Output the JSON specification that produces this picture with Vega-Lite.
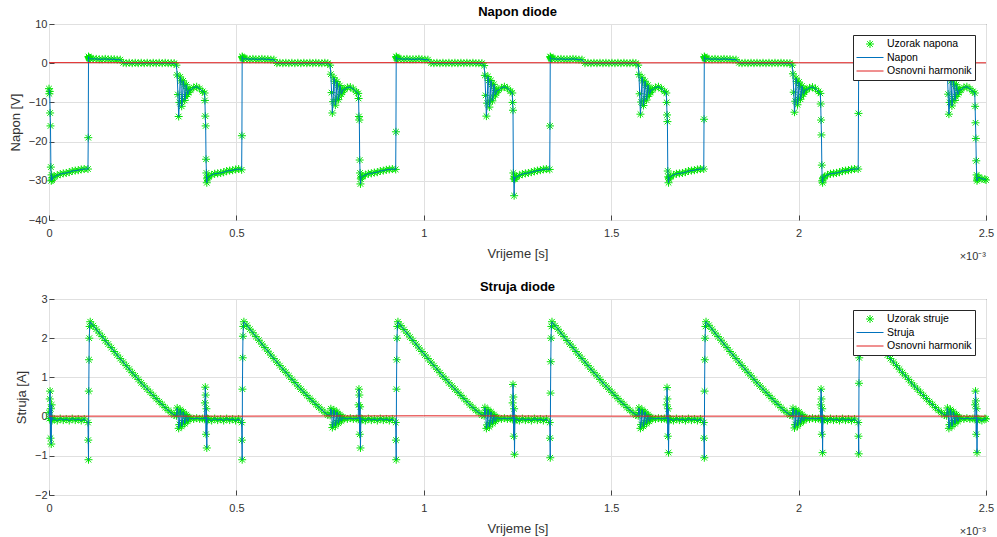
{
"$schema": "https://vega.github.io/schema/vega-lite/v6.json",
"background": "white",
"padding": {"left": 8, "top": 5, "right": 0, "bottom": 3},
"spacing": 17,
"config": {
  "font": "Liberation Sans",
  "view": {"stroke": "#444444", "strokeWidth": 1},
  "axis": {"domain": false, "grid": true, "gridColor": "#e0e0e0", "gridWidth": 1, "tickColor": "#444444", "tickSize": -5, "labelOverlap": false, "labelFlush": false, "labelFont": "Liberation Sans", "labelFontSize": 11, "labelColor": "#333333", "titleFont": "Liberation Sans", "titleFontSize": 13, "titleFontWeight": "normal", "titleColor": "#333333"},
  "axisX": {"labelPadding": 12, "titlePadding": 9},
  "axisY": {"labelPadding": 7, "titlePadding": 6},
  "title": {"font": "Liberation Sans", "fontSize": 13, "fontWeight": "bold", "color": "#000000", "offset": -1, "frame": "group"},
  "legend": {"orient": "top-right", "offset": 11, "fillColor": "#ffffff", "strokeColor": "#262626", "padding": 3, "labelFont": "Liberation Sans", "labelFontSize": 10.5, "labelColor": "#000000", "symbolStrokeWidth": 1, "clipHeight": 12, "rowPadding": 1.5, "labelOffset": 3}
},
"resolve": {"scale": {"color": "independent", "shape": "independent", "size": "independent"}, "legend": {"color": "independent", "shape": "independent", "size": "independent"}},
"datasets": {
"h": [{"t":0,"u":0.15,"i":0.012},{"t":0.5,"u":0.12,"i":0.012},{"t":1,"u":0.15,"i":0.02},{"t":1.5,"u":0.1,"i":0.012},{"t":2,"u":0.12,"i":0.012},{"t":2.5,"u":0.1,"i":0.012}],
"s": [
{"t":0,"u":-6.5,"i":0.1},{"t":0.001,"u":-7.8,"i":-0.05},{"t":0.002,"u":-7.2,"i":0.45},{"t":0.003,"u":-12.7,"i":0.65},{"t":0.004,"u":-16,"i":-0.55},{"t":0.005,"u":-26.5,"i":0.2},{"t":0.006,"u":-30,"i":-0.7},{"t":0.007,"u":-28.5,"i":0.3},{"t":0.008,"u":-29.8,"i":-0.1},{"t":0.01,"u":-29.2,"i":-0.05},
{"t":0.014,"u":-29,"i":-0.06},{"t":0.022,"u":-28.6,"i":-0.1},{"t":0.03,"u":-28.3,"i":-0.05},{"t":0.038,"u":-28.1,"i":-0.09},{"t":0.046,"u":-28,"i":-0.06},{"t":0.054,"u":-27.8,"i":-0.1},{"t":0.062,"u":-27.5,"i":-0.05},{"t":0.07,"u":-27.4,"i":-0.09},{"t":0.078,"u":-27.3,"i":-0.06},{"t":0.086,"u":-27.1,"i":-0.1},{"t":0.094,"u":-27,"i":-0.06},

{"t":0.104,"u":-27,"i":-0.15},{"t":0.1047,"u":-19,"i":-0.6},{"t":0.1054,"u":1.7,"i":-1.1},{"t":0.1061,"u":1.5,"i":0.65},{"t":0.1068,"u":1.4,"i":1.45},{"t":0.1075,"u":1.3,"i":2},{"t":0.1085,"u":1.2,"i":2.3},{"t":0.11,"u":1.1,"i":2.42},
{"t":0.118,"u":1.1,"i":2.32},{"t":0.126,"u":1.1,"i":2.23},{"t":0.134,"u":1,"i":2.13},{"t":0.142,"u":1,"i":2.04},{"t":0.15,"u":1.1,"i":1.94},{"t":0.158,"u":1,"i":1.85},{"t":0.166,"u":1,"i":1.76},{"t":0.174,"u":1,"i":1.66},{"t":0.182,"u":0.9,"i":1.57},{"t":0.19,"u":0.9,"i":1.48},{"t":0.198,"u":0.1,"i":1.39},{"t":0.206,"u":0,"i":1.3},{"t":0.214,"u":0.1,"i":1.21},{"t":0.222,"u":0,"i":1.12},{"t":0.23,"u":0.1,"i":1.04},{"t":0.238,"u":0,"i":0.95},{"t":0.246,"u":0.1,"i":0.86},{"t":0.254,"u":0,"i":0.78},{"t":0.262,"u":0.1,"i":0.7},{"t":0.27,"u":0,"i":0.62},{"t":0.278,"u":0.1,"i":0.54},{"t":0.286,"u":0,"i":0.46},{"t":0.294,"u":0.1,"i":0.38},{"t":0.302,"u":0,"i":0.31},{"t":0.31,"u":0.1,"i":0.23},{"t":0.318,"u":0,"i":0.16},{"t":0.326,"u":0,"i":0.1},{"t":0.334,"u":0,"i":0.04},
{"t":0.34,"u":-0.5,"i":0.02},{"t":0.342,"u":-3,"i":0.22},{"t":0.344,"u":-8,"i":0.1},{"t":0.346,"u":-13.6,"i":-0.3},{"t":0.348,"u":-10,"i":-0.2},{"t":0.35,"u":-3.5,"i":0.18},{"t":0.352,"u":-4.5,"i":0.1},{"t":0.354,"u":-11,"i":-0.25},{"t":0.356,"u":-9.5,"i":-0.15},{"t":0.358,"u":-4.5,"i":0.12},{"t":0.36,"u":-5.5,"i":0.05},{"t":0.362,"u":-9.5,"i":-0.18},{"t":0.364,"u":-8.5,"i":-0.1},{"t":0.366,"u":-5.5,"i":0.05},{"t":0.368,"u":-6.5,"i":0},{"t":0.37,"u":-8,"i":-0.12},{"t":0.372,"u":-7.5,"i":-0.06},{"t":0.374,"u":-6.8,"i":-0.02},
{"t":0.378,"u":-6.8,"i":-0.05},{"t":0.386,"u":-6.2,"i":-0.06},{"t":0.394,"u":-6,"i":-0.04},{"t":0.402,"u":-6.5,"i":-0.06},{"t":0.41,"u":-7.2,"i":-0.05},
{"t":0.415,"u":-7.6,"i":-0.05},{"t":0.416,"u":-9.5,"i":0.35},{"t":0.417,"u":-13.5,"i":0.75},{"t":0.418,"u":-16,"i":0.55},{"t":0.419,"u":-24.5,"i":-0.45},{"t":0.42,"u":-28,"i":0.2},{"t":0.421,"u":-30.5,"i":-0.8},{"t":0.422,"u":-29.5,"i":-0.1},{"t":0.423,"u":-29.2,"i":-0.05},
{"t":0.426,"u":-29,"i":-0.06},{"t":0.434,"u":-28.5,"i":-0.1},{"t":0.442,"u":-28.2,"i":-0.05},{"t":0.45,"u":-28.1,"i":-0.09},{"t":0.458,"u":-28,"i":-0.06},{"t":0.466,"u":-27.8,"i":-0.1},{"t":0.474,"u":-27.5,"i":-0.05},{"t":0.482,"u":-27.4,"i":-0.09},{"t":0.49,"u":-27.3,"i":-0.06},{"t":0.498,"u":-27.1,"i":-0.1},{"t":0.506,"u":-27,"i":-0.06},

{"t":0.514,"u":-27.2,"i":-0.15},{"t":0.5147,"u":-18.5,"i":-0.6},{"t":0.5154,"u":1.7,"i":-1.1},{"t":0.5161,"u":1.5,"i":0.7},{"t":0.5168,"u":1.4,"i":1.5},{"t":0.5175,"u":1.3,"i":2.05},{"t":0.5185,"u":1.2,"i":2.3},{"t":0.52,"u":1.1,"i":2.42},
{"t":0.528,"u":1.1,"i":2.33},{"t":0.536,"u":1,"i":2.23},{"t":0.544,"u":1.1,"i":2.14},{"t":0.552,"u":1,"i":2.04},{"t":0.56,"u":1,"i":1.95},{"t":0.568,"u":1.1,"i":1.85},{"t":0.576,"u":1,"i":1.76},{"t":0.584,"u":1,"i":1.67},{"t":0.592,"u":0.9,"i":1.57},{"t":0.6,"u":0.9,"i":1.48},{"t":0.608,"u":0,"i":1.39},{"t":0.616,"u":0.1,"i":1.3},{"t":0.624,"u":0,"i":1.21},{"t":0.632,"u":0.1,"i":1.13},{"t":0.64,"u":0,"i":1.04},{"t":0.648,"u":0.1,"i":0.95},{"t":0.656,"u":0,"i":0.87},{"t":0.664,"u":0.1,"i":0.78},{"t":0.672,"u":0,"i":0.7},{"t":0.68,"u":0.1,"i":0.62},{"t":0.688,"u":0,"i":0.54},{"t":0.696,"u":0.1,"i":0.46},{"t":0.704,"u":0,"i":0.39},{"t":0.712,"u":0.1,"i":0.31},{"t":0.72,"u":0,"i":0.24},{"t":0.728,"u":0,"i":0.17},{"t":0.736,"u":0.1,"i":0.1},{"t":0.744,"u":0,"i":0.04},
{"t":0.75,"u":-0.5,"i":0.03},{"t":0.752,"u":-2.8,"i":0.2},{"t":0.754,"u":-7.5,"i":0.1},{"t":0.756,"u":-12.7,"i":-0.28},{"t":0.758,"u":-9.8,"i":-0.2},{"t":0.76,"u":-3.7,"i":0.17},{"t":0.762,"u":-4.6,"i":0.1},{"t":0.764,"u":-10.7,"i":-0.24},{"t":0.766,"u":-9.3,"i":-0.14},{"t":0.768,"u":-4.7,"i":0.12},{"t":0.77,"u":-5.6,"i":0.05},{"t":0.772,"u":-9.3,"i":-0.17},{"t":0.774,"u":-8.4,"i":-0.1},{"t":0.776,"u":-5.7,"i":0.05},{"t":0.778,"u":-6.6,"i":0},{"t":0.78,"u":-7.9,"i":-0.11},{"t":0.782,"u":-7.4,"i":-0.06},{"t":0.784,"u":-6.8,"i":-0.02},
{"t":0.788,"u":-6.7,"i":-0.05},{"t":0.796,"u":-6.2,"i":-0.06},{"t":0.804,"u":-6.1,"i":-0.04},{"t":0.812,"u":-6.6,"i":-0.06},{"t":0.82,"u":-7.3,"i":-0.05},
{"t":0.825,"u":-7.7,"i":-0.05},{"t":0.826,"u":-9,"i":0.3},{"t":0.827,"u":-13.6,"i":0.7},{"t":0.828,"u":-14.5,"i":0.55},{"t":0.829,"u":-24.7,"i":-0.45},{"t":0.83,"u":-28,"i":0.25},{"t":0.831,"u":-30.8,"i":-0.8},{"t":0.832,"u":-29.5,"i":-0.1},{"t":0.833,"u":-29.1,"i":-0.05},
{"t":0.836,"u":-28.9,"i":-0.06},{"t":0.844,"u":-28.5,"i":-0.1},{"t":0.852,"u":-28.2,"i":-0.05},{"t":0.86,"u":-28.1,"i":-0.09},{"t":0.868,"u":-27.9,"i":-0.06},{"t":0.876,"u":-27.8,"i":-0.1},{"t":0.884,"u":-27.5,"i":-0.05},{"t":0.892,"u":-27.4,"i":-0.09},{"t":0.9,"u":-27.2,"i":-0.06},{"t":0.908,"u":-27.1,"i":-0.1},{"t":0.916,"u":-27,"i":-0.06},

{"t":0.925,"u":-27.1,"i":-0.15},{"t":0.9257,"u":-17.5,"i":-0.6},{"t":0.9264,"u":1.7,"i":-1.1},{"t":0.9271,"u":1.5,"i":0.7},{"t":0.9278,"u":1.4,"i":1.45},{"t":0.9285,"u":1.3,"i":2},{"t":0.9295,"u":1.2,"i":2.3},{"t":0.931,"u":1.1,"i":2.42},
{"t":0.939,"u":1.1,"i":2.32},{"t":0.947,"u":1,"i":2.22},{"t":0.955,"u":1.1,"i":2.13},{"t":0.963,"u":1,"i":2.03},{"t":0.971,"u":1,"i":1.94},{"t":0.979,"u":1,"i":1.85},{"t":0.987,"u":1.1,"i":1.75},{"t":0.995,"u":1,"i":1.66},{"t":1.003,"u":0.9,"i":1.57},{"t":1.011,"u":0.9,"i":1.48},{"t":1.019,"u":0.1,"i":1.39},{"t":1.027,"u":0,"i":1.3},{"t":1.035,"u":0.1,"i":1.21},{"t":1.043,"u":0,"i":1.12},{"t":1.051,"u":0.1,"i":1.03},{"t":1.059,"u":0,"i":0.95},{"t":1.067,"u":0.1,"i":0.86},{"t":1.075,"u":0,"i":0.78},{"t":1.083,"u":0.1,"i":0.7},{"t":1.091,"u":0,"i":0.62},{"t":1.099,"u":0.1,"i":0.54},{"t":1.107,"u":0,"i":0.46},{"t":1.115,"u":0.1,"i":0.38},{"t":1.123,"u":0,"i":0.3},{"t":1.131,"u":0.1,"i":0.23},{"t":1.139,"u":0,"i":0.16},{"t":1.147,"u":0,"i":0.1},{"t":1.155,"u":0,"i":0.04},
{"t":1.161,"u":-0.6,"i":0.02},{"t":1.163,"u":-3.1,"i":0.23},{"t":1.165,"u":-8.2,"i":0.1},{"t":1.167,"u":-13.5,"i":-0.3},{"t":1.169,"u":-10.2,"i":-0.21},{"t":1.171,"u":-3.4,"i":0.18},{"t":1.173,"u":-4.4,"i":0.1},{"t":1.175,"u":-11.2,"i":-0.26},{"t":1.177,"u":-9.6,"i":-0.15},{"t":1.179,"u":-4.4,"i":0.12},{"t":1.181,"u":-5.4,"i":0.05},{"t":1.183,"u":-9.6,"i":-0.18},{"t":1.185,"u":-8.6,"i":-0.1},{"t":1.187,"u":-5.4,"i":0.05},{"t":1.189,"u":-6.4,"i":0},{"t":1.191,"u":-8.1,"i":-0.12},{"t":1.193,"u":-7.6,"i":-0.06},{"t":1.195,"u":-6.9,"i":-0.02},
{"t":1.199,"u":-6.9,"i":-0.05},{"t":1.207,"u":-6.3,"i":-0.06},{"t":1.215,"u":-6,"i":-0.04},{"t":1.223,"u":-6.4,"i":-0.06},{"t":1.231,"u":-7.1,"i":-0.05},
{"t":1.236,"u":-7.6,"i":-0.05},{"t":1.237,"u":-10,"i":0.35},{"t":1.238,"u":-12,"i":0.82},{"t":1.239,"u":-28,"i":0.5},{"t":1.24,"u":-29.5,"i":-0.5},{"t":1.241,"u":-33.8,"i":0.2},{"t":1.242,"u":-29,"i":-0.96},{"t":1.243,"u":-29.6,"i":-0.1},{"t":1.244,"u":-29.2,"i":-0.05},
{"t":1.247,"u":-29,"i":-0.06},{"t":1.255,"u":-28.6,"i":-0.1},{"t":1.263,"u":-28.3,"i":-0.05},{"t":1.271,"u":-28.1,"i":-0.09},{"t":1.279,"u":-28,"i":-0.06},{"t":1.287,"u":-27.8,"i":-0.1},{"t":1.295,"u":-27.6,"i":-0.05},{"t":1.303,"u":-27.4,"i":-0.09},{"t":1.311,"u":-27.3,"i":-0.06},{"t":1.319,"u":-27.1,"i":-0.1},{"t":1.327,"u":-27,"i":-0.06},

{"t":1.336,"u":-27.1,"i":-0.15},{"t":1.3367,"u":-16,"i":-0.55},{"t":1.3374,"u":1.7,"i":-1.05},{"t":1.3381,"u":1.5,"i":0.6},{"t":1.3388,"u":1.4,"i":1.4},{"t":1.3395,"u":1.3,"i":2},{"t":1.3405,"u":1.2,"i":2.3},{"t":1.342,"u":1.1,"i":2.42},
{"t":1.35,"u":1.1,"i":2.32},{"t":1.358,"u":1,"i":2.23},{"t":1.366,"u":1.1,"i":2.13},{"t":1.374,"u":1,"i":2.04},{"t":1.382,"u":1,"i":1.94},{"t":1.39,"u":1,"i":1.85},{"t":1.398,"u":1.1,"i":1.76},{"t":1.406,"u":1,"i":1.66},{"t":1.414,"u":0.9,"i":1.57},{"t":1.422,"u":0.9,"i":1.48},{"t":1.43,"u":0,"i":1.39},{"t":1.438,"u":0.1,"i":1.3},{"t":1.446,"u":0,"i":1.21},{"t":1.454,"u":0.1,"i":1.12},{"t":1.462,"u":0,"i":1.04},{"t":1.47,"u":0.1,"i":0.95},{"t":1.478,"u":0,"i":0.86},{"t":1.486,"u":0.1,"i":0.78},{"t":1.494,"u":0,"i":0.7},{"t":1.502,"u":0.1,"i":0.62},{"t":1.51,"u":0,"i":0.54},{"t":1.518,"u":0.1,"i":0.46},{"t":1.526,"u":0,"i":0.38},{"t":1.534,"u":0.1,"i":0.31},{"t":1.542,"u":0,"i":0.23},{"t":1.55,"u":0,"i":0.16},{"t":1.558,"u":0.1,"i":0.1},{"t":1.566,"u":0,"i":0.04},
{"t":1.572,"u":-0.5,"i":0.02},{"t":1.574,"u":-2.9,"i":0.22},{"t":1.576,"u":-7.8,"i":0.1},{"t":1.578,"u":-13,"i":-0.3},{"t":1.58,"u":-9.9,"i":-0.2},{"t":1.582,"u":-3.6,"i":0.18},{"t":1.584,"u":-4.5,"i":0.1},{"t":1.586,"u":-10.8,"i":-0.25},{"t":1.588,"u":-9.4,"i":-0.15},{"t":1.59,"u":-4.6,"i":0.12},{"t":1.592,"u":-5.6,"i":0.05},{"t":1.594,"u":-9.4,"i":-0.18},{"t":1.596,"u":-8.5,"i":-0.1},{"t":1.598,"u":-5.6,"i":0.05},{"t":1.6,"u":-6.5,"i":0},{"t":1.602,"u":-7.9,"i":-0.12},{"t":1.604,"u":-7.5,"i":-0.06},{"t":1.606,"u":-6.8,"i":-0.02},
{"t":1.61,"u":-6.8,"i":-0.05},{"t":1.618,"u":-6.2,"i":-0.06},{"t":1.626,"u":-6,"i":-0.04},{"t":1.634,"u":-6.5,"i":-0.06},{"t":1.642,"u":-7.2,"i":-0.05},
{"t":1.647,"u":-7.6,"i":-0.05},{"t":1.648,"u":-10,"i":0.3},{"t":1.649,"u":-13.2,"i":0.74},{"t":1.65,"u":-14.9,"i":0.45},{"t":1.651,"u":-27.5,"i":-0.5},{"t":1.652,"u":-29,"i":0.2},{"t":1.653,"u":-30.5,"i":-0.92},{"t":1.654,"u":-29.5,"i":-0.1},{"t":1.655,"u":-29.2,"i":-0.05},
{"t":1.658,"u":-29,"i":-0.06},{"t":1.666,"u":-28.5,"i":-0.1},{"t":1.674,"u":-28.2,"i":-0.05},{"t":1.682,"u":-28.1,"i":-0.09},{"t":1.69,"u":-28,"i":-0.06},{"t":1.698,"u":-27.8,"i":-0.1},{"t":1.706,"u":-27.5,"i":-0.05},{"t":1.714,"u":-27.4,"i":-0.09},{"t":1.722,"u":-27.3,"i":-0.06},{"t":1.73,"u":-27.1,"i":-0.1},{"t":1.738,"u":-27,"i":-0.06},

{"t":1.747,"u":-27,"i":-0.15},{"t":1.7477,"u":-14.3,"i":-0.55},{"t":1.7484,"u":1.7,"i":-1.05},{"t":1.7491,"u":1.5,"i":0.65},{"t":1.7498,"u":1.4,"i":1.45},{"t":1.7505,"u":1.3,"i":2},{"t":1.7515,"u":1.2,"i":2.3},{"t":1.753,"u":1.1,"i":2.42},
{"t":1.761,"u":1.1,"i":2.33},{"t":1.769,"u":1,"i":2.23},{"t":1.777,"u":1.1,"i":2.13},{"t":1.785,"u":1,"i":2.04},{"t":1.793,"u":1,"i":1.95},{"t":1.801,"u":1.1,"i":1.85},{"t":1.809,"u":1,"i":1.76},{"t":1.817,"u":1,"i":1.66},{"t":1.825,"u":0.9,"i":1.57},{"t":1.833,"u":0.9,"i":1.48},{"t":1.841,"u":0.1,"i":1.39},{"t":1.849,"u":0,"i":1.3},{"t":1.857,"u":0.1,"i":1.21},{"t":1.865,"u":0,"i":1.12},{"t":1.873,"u":0.1,"i":1.04},{"t":1.881,"u":0,"i":0.95},{"t":1.889,"u":0.1,"i":0.86},{"t":1.897,"u":0,"i":0.78},{"t":1.905,"u":0.1,"i":0.7},{"t":1.913,"u":0,"i":0.62},{"t":1.921,"u":0.1,"i":0.54},{"t":1.929,"u":0,"i":0.46},{"t":1.937,"u":0.1,"i":0.38},{"t":1.945,"u":0,"i":0.31},{"t":1.953,"u":0.1,"i":0.23},{"t":1.961,"u":0,"i":0.16},{"t":1.969,"u":0,"i":0.1},{"t":1.977,"u":0,"i":0.04},
{"t":1.983,"u":-0.5,"i":0.02},{"t":1.985,"u":-2.7,"i":0.21},{"t":1.987,"u":-7.4,"i":0.1},{"t":1.989,"u":-12.5,"i":-0.29},{"t":1.991,"u":-9.7,"i":-0.2},{"t":1.993,"u":-3.8,"i":0.17},{"t":1.995,"u":-4.7,"i":0.1},{"t":1.997,"u":-10.6,"i":-0.24},{"t":1.999,"u":-9.2,"i":-0.14},{"t":2.001,"u":-4.8,"i":0.12},{"t":2.003,"u":-5.7,"i":0.05},{"t":2.005,"u":-9.2,"i":-0.17},{"t":2.007,"u":-8.4,"i":-0.1},{"t":2.009,"u":-5.8,"i":0.05},{"t":2.011,"u":-6.6,"i":0},{"t":2.013,"u":-7.9,"i":-0.11},{"t":2.015,"u":-7.4,"i":-0.06},{"t":2.017,"u":-6.8,"i":-0.02},
{"t":2.021,"u":-6.8,"i":-0.05},{"t":2.029,"u":-6.3,"i":-0.06},{"t":2.037,"u":-6.1,"i":-0.04},{"t":2.045,"u":-6.5,"i":-0.06},{"t":2.053,"u":-7.2,"i":-0.05},
{"t":2.058,"u":-7.7,"i":-0.05},{"t":2.059,"u":-10.4,"i":0.3},{"t":2.06,"u":-14.5,"i":0.7},{"t":2.061,"u":-18.3,"i":0.45},{"t":2.062,"u":-26,"i":-0.45},{"t":2.063,"u":-30,"i":0.2},{"t":2.064,"u":-30.5,"i":-0.92},{"t":2.065,"u":-29.5,"i":-0.1},{"t":2.066,"u":-29.2,"i":-0.05},
{"t":2.069,"u":-29,"i":-0.06},{"t":2.077,"u":-28.5,"i":-0.1},{"t":2.085,"u":-28.2,"i":-0.05},{"t":2.093,"u":-28.1,"i":-0.09},{"t":2.101,"u":-28,"i":-0.06},{"t":2.109,"u":-27.8,"i":-0.1},{"t":2.117,"u":-27.5,"i":-0.05},{"t":2.125,"u":-27.4,"i":-0.09},{"t":2.133,"u":-27.3,"i":-0.06},{"t":2.141,"u":-27.1,"i":-0.1},{"t":2.149,"u":-27,"i":-0.06},

{"t":2.159,"u":-27,"i":-0.15},{"t":2.1597,"u":-12.8,"i":-0.5},{"t":2.1604,"u":1.7,"i":-0.95},{"t":2.1611,"u":1.5,"i":0.85},{"t":2.1618,"u":1.4,"i":1.5},{"t":2.1625,"u":1.3,"i":2},{"t":2.1635,"u":1.2,"i":2.3},{"t":2.165,"u":1.1,"i":2.42},
{"t":2.173,"u":1.1,"i":2.32},{"t":2.181,"u":1,"i":2.23},{"t":2.189,"u":1.1,"i":2.13},{"t":2.197,"u":1,"i":2.04},{"t":2.205,"u":1,"i":1.94},{"t":2.213,"u":1,"i":1.85},{"t":2.221,"u":1.1,"i":1.76},{"t":2.229,"u":1,"i":1.66},{"t":2.237,"u":0.9,"i":1.57},{"t":2.245,"u":0.9,"i":1.48},{"t":2.253,"u":0,"i":1.39},{"t":2.261,"u":0.1,"i":1.3},{"t":2.269,"u":0,"i":1.21},{"t":2.277,"u":0.1,"i":1.12},{"t":2.285,"u":0,"i":1.04},{"t":2.293,"u":0.1,"i":0.95},{"t":2.301,"u":0,"i":0.86},{"t":2.309,"u":0.1,"i":0.78},{"t":2.317,"u":0,"i":0.7},{"t":2.325,"u":0.1,"i":0.62},{"t":2.333,"u":0,"i":0.54},{"t":2.341,"u":0.1,"i":0.46},{"t":2.349,"u":0,"i":0.38},{"t":2.357,"u":0.1,"i":0.31},{"t":2.365,"u":0,"i":0.23},{"t":2.373,"u":0,"i":0.16},{"t":2.381,"u":0.1,"i":0.1},{"t":2.389,"u":0,"i":0.04},
{"t":2.395,"u":-0.5,"i":0.02},{"t":2.397,"u":-3,"i":0.22},{"t":2.399,"u":-7.9,"i":0.1},{"t":2.401,"u":-13,"i":-0.3},{"t":2.403,"u":-10,"i":-0.2},{"t":2.405,"u":-3.5,"i":0.18},{"t":2.407,"u":-4.5,"i":0.1},{"t":2.409,"u":-10.9,"i":-0.25},{"t":2.411,"u":-9.5,"i":-0.15},{"t":2.413,"u":-4.5,"i":0.12},{"t":2.415,"u":-5.5,"i":0.05},{"t":2.417,"u":-9.5,"i":-0.18},{"t":2.419,"u":-8.5,"i":-0.1},{"t":2.421,"u":-5.5,"i":0.05},{"t":2.423,"u":-6.5,"i":0},{"t":2.425,"u":-8,"i":-0.12},{"t":2.427,"u":-7.5,"i":-0.06},{"t":2.429,"u":-6.8,"i":-0.02},
{"t":2.433,"u":-6.8,"i":-0.05},{"t":2.441,"u":-6.2,"i":-0.06},{"t":2.449,"u":-6,"i":-0.04},{"t":2.457,"u":-6.5,"i":-0.06},{"t":2.465,"u":-7.2,"i":-0.05},
{"t":2.47,"u":-7.6,"i":-0.05},{"t":2.471,"u":-11,"i":0.3},{"t":2.472,"u":-15.2,"i":0.65},{"t":2.473,"u":-19.2,"i":0.4},{"t":2.474,"u":-24.9,"i":-0.45},{"t":2.475,"u":-28.5,"i":0.2},{"t":2.476,"u":-30,"i":-0.92},{"t":2.477,"u":-29.6,"i":-0.1},{"t":2.478,"u":-29.3,"i":-0.05},
{"t":2.481,"u":-29.1,"i":-0.06},{"t":2.489,"u":-29.5,"i":-0.1},{"t":2.497,"u":-29.6,"i":-0.05},{"t":2.5,"u":-29.8,"i":-0.06}
]
},
"vconcat": [
{
  "title": "Napon diode",
  "width": 937, "height": 196,
  "layer": [
    {"data": {"name": "s"},
     "mark": {"type": "point", "filled": false, "strokeWidth": 1, "opacity": 1},
     "encoding": {
       "x": {"field": "t", "type": "quantitative", "scale": {"domain": [0, 2.5], "nice": false, "zero": false}, "axis": {"title": "Vrijeme [s]", "values": [0, 0.5, 1, 1.5, 2, 2.5], "tickCount": 6, "format": "~g"}},
       "y": {"field": "u", "type": "quantitative", "scale": {"domain": [-40, 10], "nice": false, "zero": false}, "axis": {"title": "Napon [V]", "values": [-40, -30, -20, -10, 0, 10], "tickCount": 6, "format": "d"}},
       "color": {"datum": "Uzorak napona", "type": "nominal", "scale": {"domain": ["Uzorak napona", "Napon", "Osnovni harmonik"], "range": ["#00e600", "#0072bd", "#e02020"]}, "legend": {"title": null}},
       "shape": {"datum": "Uzorak napona", "type": "nominal", "scale": {"domain": ["Uzorak napona", "Napon", "Osnovni harmonik"], "range": ["M-1,0L1,0M0,-1L0,1M-0.7,-0.7L0.7,0.7M-0.7,0.7L0.7,-0.7", "stroke", "stroke"]}, "legend": {"title": null}},
       "size": {"datum": "Uzorak napona", "type": "nominal", "scale": {"type": "ordinal", "domain": ["Uzorak napona", "Napon", "Osnovni harmonik"], "range": [64, 729, 729]}, "legend": {"title": null}}
     }},
    {"data": {"name": "s"},
     "mark": {"type": "line", "strokeWidth": 1},
     "encoding": {
       "x": {"field": "t", "type": "quantitative", "axis": {"title": "Vrijeme [s]", "values": [0, 0.5, 1, 1.5, 2, 2.5], "tickCount": 6, "format": "~g"}},
       "y": {"field": "u", "type": "quantitative", "axis": {"title": "Napon [V]", "values": [-40, -30, -20, -10, 0, 10], "tickCount": 6, "format": "d"}},
       "color": {"datum": "Napon", "type": "nominal", "legend": {"title": null}}}},
    {"data": {"name": "h"},
     "mark": {"type": "line", "strokeWidth": 1},
     "encoding": {
       "x": {"field": "t", "type": "quantitative", "axis": {"title": "Vrijeme [s]", "values": [0, 0.5, 1, 1.5, 2, 2.5], "tickCount": 6, "format": "~g"}},
       "y": {"field": "u", "type": "quantitative", "axis": {"title": "Napon [V]", "values": [-40, -30, -20, -10, 0, 10], "tickCount": 6, "format": "d"}},
       "color": {"datum": "Osnovni harmonik", "type": "nominal", "legend": {"title": null}}}},
    {"data": {"values": [{"note": "×10⁻³"}]},
     "mark": {"type": "text", "align": "right", "baseline": "middle", "dy": 37, "fontSize": 11, "color": "#333333", "font": "Liberation Sans"},
     "encoding": {
       "x": {"datum": 2.5, "type": "quantitative", "axis": {"title": "Vrijeme [s]", "values": [0, 0.5, 1, 1.5, 2, 2.5], "tickCount": 6, "format": "~g"}},
       "y": {"datum": -40, "type": "quantitative", "axis": {"title": "Napon [V]", "values": [-40, -30, -20, -10, 0, 10], "tickCount": 6, "format": "d"}},
       "text": {"field": "note"}}}
  ]
},
{
  "title": "Struja diode",
  "width": 937, "height": 196,
  "layer": [
    {"data": {"name": "s"},
     "mark": {"type": "point", "filled": false, "strokeWidth": 1, "opacity": 1},
     "encoding": {
       "x": {"field": "t", "type": "quantitative", "scale": {"domain": [0, 2.5], "nice": false, "zero": false}, "axis": {"title": "Vrijeme [s]", "values": [0, 0.5, 1, 1.5, 2, 2.5], "tickCount": 6, "format": "~g"}},
       "y": {"field": "i", "type": "quantitative", "scale": {"domain": [-2, 3], "nice": false, "zero": false}, "axis": {"title": "Struja [A]", "values": [-2, -1, 0, 1, 2, 3], "tickCount": 6, "format": "d"}},
       "color": {"datum": "Uzorak struje", "type": "nominal", "scale": {"domain": ["Uzorak struje", "Struja", "Osnovni harmonik"], "range": ["#00e600", "#0072bd", "#e02020"]}, "legend": {"title": null}},
       "shape": {"datum": "Uzorak struje", "type": "nominal", "scale": {"domain": ["Uzorak struje", "Struja", "Osnovni harmonik"], "range": ["M-1,0L1,0M0,-1L0,1M-0.7,-0.7L0.7,0.7M-0.7,0.7L0.7,-0.7", "stroke", "stroke"]}, "legend": {"title": null}},
       "size": {"datum": "Uzorak struje", "type": "nominal", "scale": {"type": "ordinal", "domain": ["Uzorak struje", "Struja", "Osnovni harmonik"], "range": [64, 729, 729]}, "legend": {"title": null}}
     }},
    {"data": {"name": "s"},
     "mark": {"type": "line", "strokeWidth": 1},
     "encoding": {
       "x": {"field": "t", "type": "quantitative", "axis": {"title": "Vrijeme [s]", "values": [0, 0.5, 1, 1.5, 2, 2.5], "tickCount": 6, "format": "~g"}},
       "y": {"field": "i", "type": "quantitative", "axis": {"title": "Struja [A]", "values": [-2, -1, 0, 1, 2, 3], "tickCount": 6, "format": "d"}},
       "color": {"datum": "Struja", "type": "nominal", "legend": {"title": null}}}},
    {"data": {"name": "h"},
     "mark": {"type": "line", "strokeWidth": 1},
     "encoding": {
       "x": {"field": "t", "type": "quantitative", "axis": {"title": "Vrijeme [s]", "values": [0, 0.5, 1, 1.5, 2, 2.5], "tickCount": 6, "format": "~g"}},
       "y": {"field": "i", "type": "quantitative", "axis": {"title": "Struja [A]", "values": [-2, -1, 0, 1, 2, 3], "tickCount": 6, "format": "d"}},
       "color": {"datum": "Osnovni harmonik", "type": "nominal", "legend": {"title": null}}}},
    {"data": {"values": [{"note": "×10⁻³"}]},
     "mark": {"type": "text", "align": "right", "baseline": "middle", "dy": 37, "fontSize": 11, "color": "#333333", "font": "Liberation Sans"},
     "encoding": {
       "x": {"datum": 2.5, "type": "quantitative", "axis": {"title": "Vrijeme [s]", "values": [0, 0.5, 1, 1.5, 2, 2.5], "tickCount": 6, "format": "~g"}},
       "y": {"datum": -2, "type": "quantitative", "axis": {"title": "Struja [A]", "values": [-2, -1, 0, 1, 2, 3], "tickCount": 6, "format": "d"}},
       "text": {"field": "note"}}}
  ]
}
]
}
